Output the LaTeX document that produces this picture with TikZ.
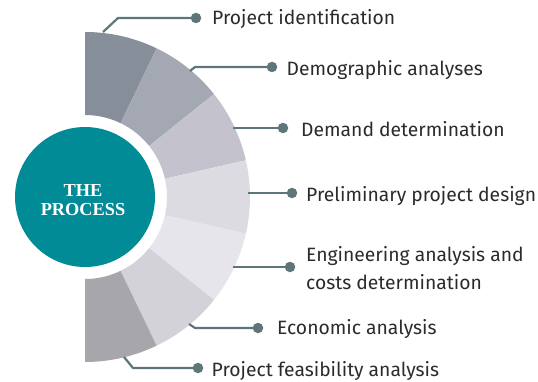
\documentclass[tikz,border=0pt]{standalone}
\usepackage{fontspec}
\newfontfamily\labelfont{Fira Sans}
\newfontfamily\titlefont{Liberation Serif Bold}
\definecolor{s1}{HTML}{858E99}
\definecolor{s2}{HTML}{A4A8B3}
\definecolor{s3}{HTML}{C4C3CD}
\definecolor{s4}{HTML}{DDDBE2}
\definecolor{s5}{HTML}{E6E5EB}
\definecolor{s6}{HTML}{D3D2D8}
\definecolor{s7}{HTML}{A6A6AB}
\definecolor{linec}{HTML}{5E757A}
\definecolor{tealc}{HTML}{008B96}
\definecolor{txt}{HTML}{2B2B2B}
\begin{document}
\begin{tikzpicture}[x=1pt,y=1pt,
  conn/.style={draw=linec, line width=2.2pt, line join=round},
  dotn/.style={circle, fill=linec, inner sep=0pt, minimum size=10.5pt},
  lbl/.style={anchor=base west, inner sep=0pt, font={\labelfont\fontsize{19.3}{28}\selectfont}, text=txt, align=left},
  titlestyle/.style={inner sep=0pt, anchor=base, text=white, font={\fontsize{18.3}{18.3}\selectfont\titlefont}}]
\useasboundingbox (0,0) rectangle (538,381);
\coordinate (c) at (85,184);
\begin{scope}[shift={(85,184)}]
\foreach \i/\col in {0/s1,1/s2,2/s3,3/s4,4/s5,5/s6,6/s7}{
  \pgfmathsetmacro\a{90-\i*180/7}
  \pgfmathsetmacro\b{90-(\i+1)*180/7}
  \fill[\col] (\a:82) -- (\a:165) arc[start angle=\a, end angle=\b, radius=165] -- (\b:82) arc[start angle=\b, end angle=\a, radius=82] -- cycle;
}
\end{scope}
\node[circle, fill=tealc, minimum size=140pt, inner sep=0pt] (proc) at (c) {};
\node[titlestyle] (title1) at (83,184.5) {THE};
\node[titlestyle] (title2) at (83,166) {PROCESS};

% 1
\coordinate (a1) at (103,349);
\coordinate (e1) at (118,363);
\node[dotn] (d1) at (196,363) {};
\node[lbl] (l1) at (212,356) {Project identification};
\draw[conn] (a1) -- (e1) -- (d1.center);
% 2
\coordinate (a2) at (190,310);
\coordinate (e2) at (195,314);
\node[dotn] (d2) at (272,314) {};
\node[lbl] (l2) at (286.5,305.5) {Demographic analyses};
\draw[conn] (a2) -- (e2) -- (d2.center);
% 3
\coordinate (a3) at (233,253);
\node[dotn] (d3) at (283,253) {};
\node[lbl] (l3) at (301,245) {Demand determination};
\draw[conn] (a3) -- (d3.center);
% 4
\coordinate (a4) at (248,188);
\node[dotn] (d4) at (292,188) {};
\node[lbl] (l4) at (306,180) {Preliminary project design};
\draw[conn] (a4) -- (d4.center);
% 5
\coordinate (a5) at (233,114);
\node[dotn] (d5) at (290,114) {};
\node[lbl] (l5) at (306,92) {Engineering analysis and\\costs determination};
\draw[conn] (a5) -- (d5.center);
% 6
\coordinate (a6) at (189,57);
\coordinate (e6) at (195,53);
\node[dotn] (d6) at (258,53) {};
\node[lbl] (l6) at (277,47) {Economic analysis};
\draw[conn] (a6) -- (e6) -- (d6.center);
% 7
\coordinate (a7) at (124,24);
\coordinate (e7) at (133,13);
\node[dotn] (d7) at (198,13) {};
\node[lbl] (l7) at (211.5,5) {Project feasibility analysis};
\draw[conn] (a7) -- (e7) -- (d7.center);
\end{tikzpicture}
\end{document}
